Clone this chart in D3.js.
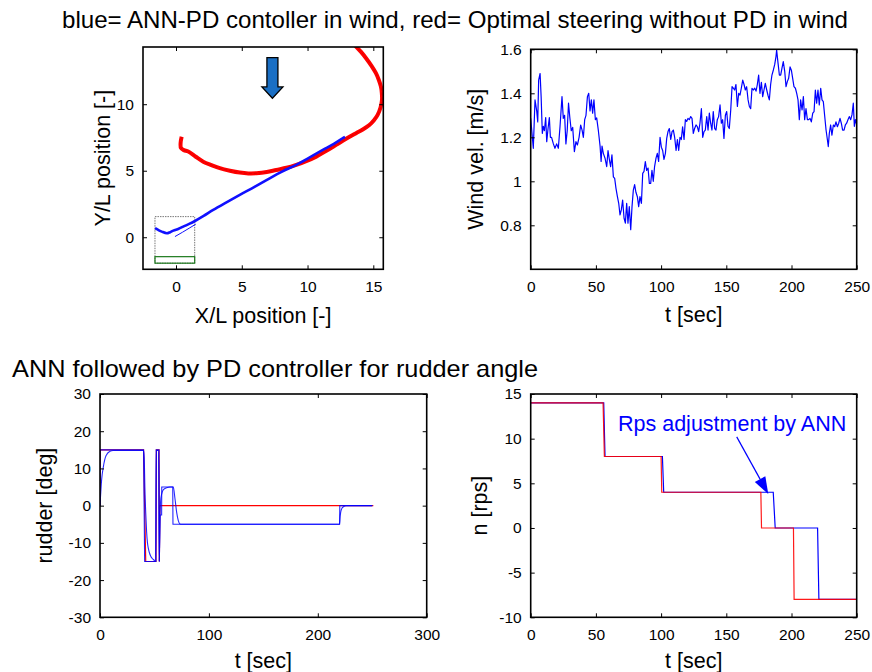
<!DOCTYPE html>
<html>
<head>
<meta charset="utf-8">
<script src="https://cdn.jsdelivr.net/npm/d3@7"></script>
<style>
  body { margin: 0; background: #fff; }
  svg { display: block; }
  text { font-family: "Liberation Sans", Arial, sans-serif; fill: #000; }
</style>
</head>
<body>
<svg id="chart" width="872" height="672"></svg>
<script>
// ---------- data ----------
// trajectory in the X/L - Y/L plane
const trajRedX  = [0.43, 0.35, 0.38, 0.6, 0.93, 1.5, 2.07, 2.7, 3.33, 4.1, 4.85, 5.5, 6.11, 6.9, 7.63, 8.4, 9.14, 9.9, 10.66, 11.4, 12.17, 12.9, 13.69, 14.2, 14.7, 15.05, 15.33, 15.55, 15.66, 15.65, 15.58, 15.42, 15.2, 14.85, 14.45, 14.05, 13.69, 13.3];
const trajRedY  = [7.55, 7.1, 6.7, 6.55, 6.44, 6.05, 5.68, 5.42, 5.19, 5.0, 4.86, 4.8, 4.81, 4.9, 5.06, 5.22, 5.44, 5.72, 6.06, 6.48, 6.94, 7.38, 7.82, 8.1, 8.44, 8.8, 9.2, 9.75, 10.32, 10.82, 11.32, 11.82, 12.33, 12.9, 13.46, 13.95, 14.33, 14.8];
const trajBlueX = [-1.59, -1.3, -1.08, -0.7, -0.45, -0.2, 0.2, 0.55, 1.0, 1.44, 2.1, 2.83, 3.8, 4.85, 6.0, 7.12, 8.1, 9.14, 10.1, 11.16, 12.0, 12.67, 12.85];
const trajBlueY = [0.68, 0.52, 0.42, 0.3, 0.38, 0.5, 0.64, 0.8, 1.0, 1.22, 1.6, 2.05, 2.6, 3.18, 3.8, 4.43, 4.95, 5.44, 5.97, 6.56, 7.02, 7.44, 7.55];
const trajBlue2X = [-0.08, 0.5, 1.0, 1.5];
const trajBlue2Y = [0.05, 0.38, 0.68, 0.98];
// start region boxes (X/L, Y/L)
const startBox = [-1.6, 1.42, -1.95, 1.55];
const startBand = [-1.6, 1.42, -1.95, -1.46];
// wind direction arrow (X/L, Y/L)
const windArrowX = 7.33;
const windArrowTop = 13.5;
const windArrowHead = 11.3;
const windArrowTip = 10.45;

// wind velocity time history
const windT = [0, 2, 3.3, 4.6, 5.4, 6.1, 7.2, 8, 8.9, 9.7, 10.5, 11.5, 12.3, 13.3, 14.3, 15.1, 16, 17.4, 18.6, 19.9, 21.2, 22.5, 24, 25, 26, 27, 28, 29, 30, 31.1, 32.2, 33.5, 34.7, 35.8, 37.1, 38.3, 39.4, 40.4, 41.4, 42.4, 43.5, 44.5, 45.5, 46.5, 47.5, 48.5, 49.6, 50.6, 51.9, 53.2, 54, 54.7, 55.7, 57, 58.3, 59.3, 60.3, 61.3, 62.3, 63.4, 64.4, 65.4, 66.5, 67.5, 68.5, 69.5, 70.5, 71.6, 72.6, 73.6, 74.6, 75.6, 76.7, 77.7, 78.7, 79.7, 80.7, 81.8, 82.8, 83.8, 84.9, 85.9, 86.9, 87.9, 88.9, 90, 91, 92, 93, 94, 95, 96.1, 97.1, 98.1, 99.2, 100.2, 101.2, 102.2, 103.3, 104.3, 105.3, 106.3, 107.4, 108.4, 109.4, 110.4, 111.5, 112.5, 113.5, 114.5, 115.5, 116.5, 117.6, 118.6, 119.6, 120.6, 121.6, 122.7, 123.7, 124.7, 125.7, 126.8, 127.8, 128.8, 129.8, 130.9, 131.9, 132.9, 133.9, 135, 136, 137, 138, 139, 140, 141.1, 142.1, 143.1, 144.1, 145.2, 146.2, 147.2, 148.2, 149.3, 150.3, 151.3, 152.3, 153.4, 154.4, 155.4, 156.4, 157.4, 158.5, 159.5, 160.5, 161.5, 162.6, 163.6, 164.6, 165.6, 166.7, 167.7, 168.7, 169.7, 170.7, 171.8, 172.8, 173.8, 174.8, 175.8, 176.9, 177.9, 178.9, 179.9, 181, 182, 183, 184, 185, 186.1, 187.1, 188.1, 188.6, 189.7, 190.7, 191.7, 192.7, 193.7, 194.8, 195.8, 196.8, 197.8, 198.9, 199.9, 200.9, 201.9, 203, 204, 205, 206, 207, 208.1, 209.1, 210.1, 211.1, 212.2, 213.2, 214.2, 215.2, 216.3, 217.3, 218.3, 219.3, 220.3, 221.3, 222.4, 223.4, 224.4, 225.4, 226.5, 227.5, 228.2, 229, 230, 231, 232.1, 233.1, 234.1, 235.2, 236.2, 237.2, 238.2, 239.2, 240.3, 241.3, 242.3, 243.3, 244.3, 245.4, 246.4, 247.4, 248.2, 249, 250];
const windV = [1.286, 1.15, 1.37, 1.32, 1.27, 1.46, 1.49, 1.385, 1.218, 1.25, 1.23, 1.29, 1.18, 1.24, 1.29, 1.2, 1.2, 1.17, 1.15, 1.17, 1.15, 1.25, 1.385, 1.286, 1.3, 1.17, 1.23, 1.355, 1.29, 1.23, 1.245, 1.135, 1.18, 1.165, 1.2, 1.256, 1.233, 1.2, 1.28, 1.3, 1.385, 1.4, 1.32, 1.37, 1.31, 1.37, 1.28, 1.288, 1.23, 1.16, 1.09, 1.16, 1.127, 1.105, 1.067, 1.14, 1.1, 1.067, 1.12, 1.02, 1.013, 0.968, 0.93, 0.9, 0.847, 0.87, 0.915, 0.832, 0.81, 0.9, 0.81, 0.885, 0.78, 0.885, 0.96, 0.985, 0.95, 0.93, 0.885, 0.93, 0.9, 1.036, 1.045, 1.09, 1.05, 1.06, 0.99, 0.99, 1.05, 1.0, 1.067, 1.105, 1.127, 1.09, 1.2, 1.155, 1.14, 1.1, 1.127, 1.195, 1.226, 1.24, 1.19, 1.226, 1.233, 1.2, 1.14, 1.19, 1.14, 1.2, 1.19, 1.248, 1.19, 1.28, 1.272, 1.286, 1.28, 1.294, 1.286, 1.218, 1.24, 1.256, 1.248, 1.226, 1.264, 1.33, 1.2, 1.226, 1.233, 1.294, 1.233, 1.31, 1.264, 1.233, 1.317, 1.24, 1.233, 1.28, 1.294, 1.347, 1.264, 1.28, 1.195, 1.3, 1.317, 1.25, 1.24, 1.324, 1.43, 1.423, 1.415, 1.44, 1.34, 1.4, 1.392, 1.423, 1.46, 1.44, 1.415, 1.43, 1.37, 1.34, 1.33, 1.423, 1.415, 1.423, 1.41, 1.44, 1.483, 1.4, 1.45, 1.385, 1.415, 1.445, 1.415, 1.39, 1.37, 1.44, 1.483, 1.506, 1.53, 1.567, 1.597, 1.536, 1.483, 1.483, 1.514, 1.544, 1.5, 1.43, 1.453, 1.468, 1.52, 1.505, 1.468, 1.43, 1.423, 1.4, 1.37, 1.28, 1.37, 1.324, 1.385, 1.28, 1.33, 1.28, 1.28, 1.286, 1.27, 1.31, 1.317, 1.415, 1.355, 1.415, 1.347, 1.423, 1.37, 1.362, 1.3, 1.233, 1.19, 1.158, 1.218, 1.256, 1.21, 1.256, 1.248, 1.27, 1.248, 1.264, 1.286, 1.264, 1.233, 1.233, 1.256, 1.264, 1.28, 1.294, 1.28, 1.303, 1.355, 1.25, 1.28, 1.256];

// rudder angle: optimal steering (red), PD command and actual response (blue)
const rudderRedT = [0, 0.3, 40, 42, 51.4, 51.8, 54.2, 54.5, 55, 251];
const rudderRedV = [0, 15, 15, -15, -15, 15, 15, -15, 0, 0];
const rudderCmdT = [0, 0.1, 40, 41, 51.4, 51.6, 54.2, 54.5, 55.2, 56.6, 56.7, 66.8, 67, 220, 220.2, 250];
const rudderCmdV = [0, 15, 15, -15, -15, 15, 15, -15, -2.5, -2.5, 5, 5, -5, -5, 0, 0];
const rudderActT = [0, 1.5, 3, 5.5, 9.2, 12, 40, 40.6, 41.2, 42, 42.8, 43.6, 44.4, 45.5, 46.5, 48, 49.5, 51, 51.7, 53.8, 54.4, 55.1, 55.7, 56.6, 58.2, 61.2, 64.3, 67.3, 68.8, 70.4, 71.9, 73.4, 75, 220, 220.5, 221, 222, 223.5, 226, 250];
const rudderActV = [0, 7, 10.3, 13.4, 14.6, 14.8, 14.8, 13, 5, -2, -7, -10, -11.5, -12.8, -13.5, -14.2, -14.6, -15, 14.8, 14.8, -15, -2.7, 1.3, 3.1, 4.3, 4.8, 5, 5, 2, -1.8, -4, -4.9, -5, -5, -3, -1.8, -0.8, -0.3, 0, 0];

// propeller revolutions
const rpsRedT  = [0, 55.5, 56.5, 100, 100.5, 176.5, 177, 201.5, 202, 250];
const rpsRedV  = [14, 14, 8, 8, 4, 4, 0, 0, -8, -8];
const rpsBlueT = [0, 56, 57, 101, 102, 186, 187.5, 220, 221, 250];
const rpsBlueV = [14, 14, 8, 8, 4, 4, 0, 0, -8, -8];
const rpsNoteFrom = [158, 10.2];
const rpsNoteTo   = [182.2, 3.8];

// axis ticks
const trajXTicks = [0, 5, 10, 15];
const trajYTicks = [0, 5, 10];
const windXTicks = [0, 50, 100, 150, 200, 250];
const windYTicks = [0.8, 1, 1.2, 1.4, 1.6];
const rudderXTicks = [0, 100, 200, 300];
const rudderYTicks = [-30, -20, -10, 0, 10, 20, 30];
const rpsXTicks = [0, 50, 100, 150, 200, 250];
const rpsYTicks = [-10, -5, 0, 5, 10, 15];

const titleTop = "blue= ANN-PD contoller in wind, red= Optimal steering without PD in wind";
const titleBottom = "ANN followed by PD controller for rudder angle";

// ---------- drawing ----------
const svg = d3.select("#chart");
const defs = svg.append("defs");
let clipId = 0;

function panel(o) {
  const x = d3.scaleLinear().domain(o.xd).range([o.left, o.right]);
  const y = d3.scaleLinear().domain(o.yd).range([o.bottom, o.top]);
  const g = svg.append("g");
  const id = "clip" + (clipId++);
  defs.append("clipPath").attr("id", id).append("rect")
    .attr("x", o.left).attr("y", o.top)
    .attr("width", o.right - o.left).attr("height", o.bottom - o.top);
  const plot = g.append("g").attr("clip-path", `url(#${id})`);

  const fmt = d => String(d);
  const tickLen = 4;
  const ax = [
    g.append("g").attr("transform", `translate(0,${o.bottom})`)
      .call(d3.axisBottom(x).tickValues(o.xt).tickSize(-tickLen).tickPadding(12).tickFormat(fmt)),
    g.append("g").attr("transform", `translate(${o.left},0)`)
      .call(d3.axisLeft(y).tickValues(o.yt).tickSize(-tickLen).tickPadding(9).tickFormat(fmt)),
    g.append("g").attr("transform", `translate(0,${o.top})`)
      .call(d3.axisTop(x).tickValues(o.xt).tickSize(-tickLen).tickFormat("")),
    g.append("g").attr("transform", `translate(${o.right},0)`)
      .call(d3.axisRight(y).tickValues(o.yt).tickSize(-tickLen).tickFormat(""))
  ];
  ax.forEach(a => {
    a.select(".domain").remove();
    a.selectAll("line").attr("stroke", "#000").attr("stroke-width", 1);
    a.selectAll("text").attr("font-size", 15.5).attr("fill", "#000")
      .attr("font-family", "'Liberation Sans', Arial, sans-serif");
  });
  g.append("rect").attr("x", o.left).attr("y", o.top)
    .attr("width", o.right - o.left).attr("height", o.bottom - o.top)
    .attr("fill", "none").attr("stroke", "#000").attr("stroke-width", 1.6);

  g.append("text").attr("x", (o.left + o.right) / 2).attr("y", o.xlabY)
    .attr("text-anchor", "middle").attr("font-size", 21.5).text(o.xlab);
  g.append("text").attr("transform", `translate(${o.ylabX},${(o.top + o.bottom) / 2}) rotate(-90)`)
    .attr("text-anchor", "middle").attr("font-size", 21.5).text(o.ylab);
  return { x, y, plot, g };
}

function lineOf(xs, ys, sx, sy, curve) {
  return d3.line().curve(curve || d3.curveLinear)
    .x((d, i) => sx(xs[i])).y((d, i) => sy(ys[i]))(xs);
}

// titles
svg.append("text").attr("x", 62).attr("y", 28).attr("font-size", 24)
  .attr("textLength", 786).attr("lengthAdjust", "spacingAndGlyphs").text(titleTop);
svg.append("text").attr("x", 12).attr("y", 377).attr("font-size", 24)
  .attr("textLength", 526).attr("lengthAdjust", "spacingAndGlyphs").text(titleBottom);

// --- trajectory panel ---
const p1 = panel({ left: 143, right: 383.3, top: 47, bottom: 269.3,
  xd: [-2.51, 15.76], yd: [-2.41, 14.3], xt: trajXTicks, yt: trajYTicks,
  xlab: "X/L position [-]", xlabY: 323, ylab: "Y/L position [-]", ylabX: 110 });

p1.plot.append("rect")
  .attr("x", p1.x(startBox[0])).attr("y", p1.y(startBox[3]))
  .attr("width", p1.x(startBox[1]) - p1.x(startBox[0]))
  .attr("height", p1.y(startBox[2]) - p1.y(startBox[3]))
  .attr("fill", "none").attr("stroke", "#777").attr("stroke-width", 1).attr("stroke-dasharray", "1.5,1");
p1.plot.append("rect")
  .attr("x", p1.x(startBand[0])).attr("y", p1.y(startBand[3]))
  .attr("width", p1.x(startBand[1]) - p1.x(startBand[0]))
  .attr("height", p1.y(startBand[2]) - p1.y(startBand[3]))
  .attr("fill", "none").attr("stroke", "#1d7a1d").attr("stroke-width", 1.2);

const redPath = lineOf(trajRedX, trajRedY, p1.x, p1.y, d3.curveCatmullRom);
const bluePath = lineOf(trajBlueX, trajBlueY, p1.x, p1.y, d3.curveCatmullRom);
p1.plot.append("path").attr("d", redPath)
  .attr("fill", "none").attr("stroke", "#ff0000").attr("stroke-width", 4).attr("stroke-linejoin", "round");
p1.plot.append("path").attr("d", redPath)
  .attr("fill", "none").attr("stroke", "#a00000").attr("stroke-width", 0.7).attr("stroke-opacity", 0.45)
  .attr("stroke-dasharray", "3,2");
p1.plot.append("path").attr("d", bluePath)
  .attr("fill", "none").attr("stroke", "#1010ff").attr("stroke-width", 2.6).attr("stroke-linejoin", "round");
p1.plot.append("path").attr("d", lineOf(trajBlue2X, trajBlue2Y, p1.x, p1.y))
  .attr("fill", "none").attr("stroke", "#1010ff").attr("stroke-width", 1);

// wind direction arrow
{
  const cx = p1.x(windArrowX), yt = p1.y(windArrowTop), yh = p1.y(windArrowHead), yp = p1.y(windArrowTip);
  const sw = 5.5, hw = 10.5;
  const pts = [[cx - sw, yt], [cx + sw, yt], [cx + sw, yh], [cx + hw, yh], [cx, yp], [cx - hw, yh], [cx - sw, yh]];
  p1.g.append("path").attr("d", d3.line()(pts) + "Z")
    .attr("fill", "#1a6fc4").attr("stroke", "#000").attr("stroke-width", 1.3).attr("stroke-linejoin", "miter");
}

// --- wind panel ---
const p2 = panel({ left: 530.7, right: 856.7, top: 49.3, bottom: 269.3,
  xd: [0, 250], yd: [0.6, 1.6], xt: windXTicks, yt: windYTicks,
  xlab: "t [sec]", xlabY: 322, ylab: "Wind vel. [m/s]", ylabX: 483 });
p2.plot.append("path").attr("d", lineOf(windT, windV, p2.x, p2.y))
  .attr("fill", "none").attr("stroke", "#0000ff").attr("stroke-width", 1.2).attr("stroke-linejoin", "round");

// --- rudder panel ---
const p3 = panel({ left: 100, right: 426.7, top: 394, bottom: 617.3,
  xd: [0, 300], yd: [-30, 30], xt: rudderXTicks, yt: rudderYTicks,
  xlab: "t [sec]", xlabY: 668, ylab: "rudder [deg]", ylabX: 52 });
p3.plot.append("path").attr("d", lineOf(rudderRedT, rudderRedV, p3.x, p3.y))
  .attr("fill", "none").attr("stroke", "#ff0000").attr("stroke-width", 1.2);
p3.plot.append("path").attr("d", lineOf(rudderCmdT, rudderCmdV, p3.x, p3.y))
  .attr("fill", "none").attr("stroke", "#0000ff").attr("stroke-width", 1.1).attr("stroke-opacity", 0.85);
p3.plot.append("path").attr("d", lineOf(rudderActT, rudderActV, p3.x, p3.y, d3.curveMonotoneX))
  .attr("fill", "none").attr("stroke", "#0000ff").attr("stroke-width", 1.1).attr("stroke-opacity", 0.85);

// --- propeller panel ---
const p4 = panel({ left: 530.7, right: 856.7, top: 394, bottom: 617.3,
  xd: [0, 250], yd: [-10, 15], xt: rpsXTicks, yt: rpsYTicks,
  xlab: "t [sec]", xlabY: 668, ylab: "n [rps]", ylabX: 487 });
p4.plot.append("path").attr("d", lineOf(rpsBlueT, rpsBlueV, p4.x, p4.y))
  .attr("fill", "none").attr("stroke", "#0000ff").attr("stroke-width", 1.2);
p4.plot.append("path").attr("d", lineOf(rpsRedT, rpsRedV, p4.x, p4.y))
  .attr("fill", "none").attr("stroke", "#ff0000").attr("stroke-width", 1.2).attr("stroke-opacity", 0.9);

// annotation with arrow
p4.g.append("text").attr("x", 618).attr("y", 431).attr("font-size", 21.5)
  .style("fill", "#0000ff").text("Rps adjustment by ANN");
{
  const x0 = p4.x(rpsNoteFrom[0]), y0 = p4.y(rpsNoteFrom[1]);
  const x1 = p4.x(rpsNoteTo[0]), y1 = p4.y(rpsNoteTo[1]);
  const dx = x1 - x0, dy = y1 - y0, L = Math.hypot(dx, dy);
  const ux = dx / L, uy = dy / L, hl = 17, hw = 6;
  const bx = x1 - ux * hl, by = y1 - uy * hl;
  p4.g.append("line").attr("x1", x0).attr("y1", y0).attr("x2", bx).attr("y2", by)
    .attr("stroke", "#0000ff").attr("stroke-width", 1.2);
  p4.g.append("path")
    .attr("d", d3.line()([[x1, y1], [bx - uy * hw, by + ux * hw], [bx + uy * hw, by - ux * hw]]) + "Z")
    .attr("fill", "#0000ff");
}
</script>
</body>
</html>
